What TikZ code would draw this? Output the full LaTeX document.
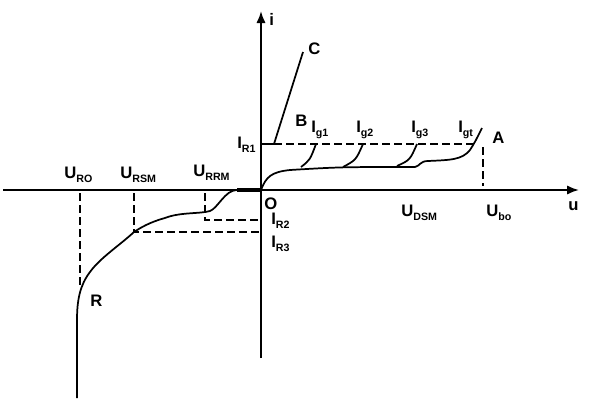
\documentclass[tikz,border=0pt]{standalone}
\usepackage{fontspec}
\setmainfont{Liberation Sans}
\usetikzlibrary{arrows.meta}
\tikzset{>={Latex[length=9pt,width=7pt]}}
\newcommand{\lo}[1]{\raisebox{-3.5pt}{\fontsize{8}{9}\selectfont #1}}

\begin{document}
\begin{tikzpicture}[x=0.75pt,y=-0.75pt,
    axis/.style={line width=1.5pt},
    curve/.style={line width=1.3pt},
    guide/.style={line width=1.2pt, dash pattern=on 6pt off 3pt},
    lbl/.style={font=\fontsize{12.5}{14}\selectfont\bfseries, inner sep=0pt, anchor=base west}]
                \useasboundingbox (0,0) rectangle (600,400);

                \draw[axis,->] (3,190) -- (579,190);
                \draw[axis,->] (261,358) -- (261,11);

                \draw[guide] (274,144) -- (474,144);
                \draw[guide] (483,147) -- (483,186);
                \draw[guide] (80,193) -- (80,288);
                \draw[guide] (134,193) -- (134,232) -- (261,232);
                \draw[guide] (205,193) -- (205,220) -- (261,220);

                \draw[curve] (261,144) -- (274,144) -- (303,52);

                \draw[curve] (261,190) .. controls (266,177) and (271,172) .. (290,170) .. controls (340,167) .. (415,167)
                    .. controls (420,166) and (420,161) .. (428,161) .. controls (450,160) and (462,160) .. (470,150)
                    .. controls (475,142) .. (482,128);
                \draw[curve] (301,167) .. controls (310,160) .. (316,144);
                \draw[curve] (343,167) .. controls (356,160) .. (363,144);
                \draw[curve] (397,166) .. controls (410,160) .. (417,144);

                \draw[line width=3pt] (237,190) -- (261,190);
                \draw[curve] (237,190) .. controls (225,190) and (218,208) .. (210,211) .. controls (200,214) and (180,212) .. (165,218)
                    .. controls (150,222) and (140,228) .. (134,232) .. controls (120,245) and (100,258) .. (90,272)
                    .. controls (80,285) and (77,300) .. (77,320) -- (77,398);

                \node[lbl] (li) at (269,25) {i};
                \node[lbl] (lu) at (568,210) {u};
                \node[lbl] (lc) at (308,54) {C};
                \node[lbl] (lb) at (295,126) {B};
                \node[lbl] (la) at (492,143) {A};
                \node[lbl] (lr) at (90,306) {R};
                \node[lbl] (lo) at (264,209) {O};
                \node[lbl] (ig1) at (311,132) {I\lo{g1}};
                \node[lbl] (ig2) at (356,132) {I\lo{g2}};
                \node[lbl] (ig3) at (411,132) {I\lo{g3}};
                \node[lbl] (igt) at (458,132) {I\lo{gt}};
                \node[lbl] (ir1) at (237,148) {I\lo{R1}};
                \node[lbl] (ir2) at (271,224) {I\lo{R2}};
                \node[lbl] (ir3) at (271,247) {I\lo{R3}};
                \node[lbl] (uro) at (64,178) {U\lo{RO}};
                \node[lbl] (ursm) at (120,178) {U\lo{RSM}};
                \node[lbl] (urrm) at (193,176) {U\lo{RRM}};
                \node[lbl] (udsm) at (401,216) {U\lo{DSM}};
                \node[lbl] (ubo) at (486,216) {U\lo{bo}};

            \end{tikzpicture}
\end{document}
